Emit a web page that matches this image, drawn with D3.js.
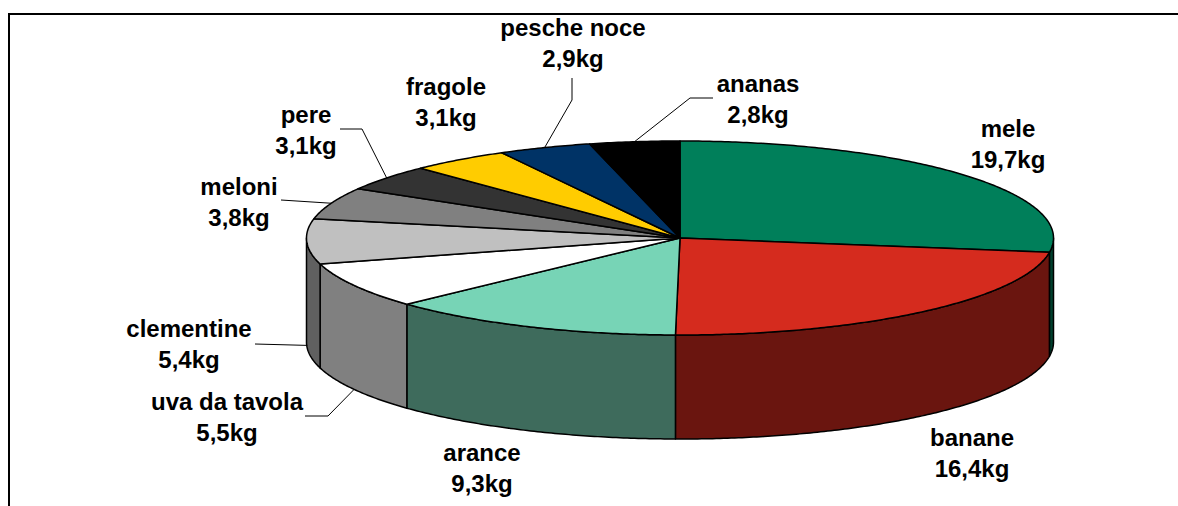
<!DOCTYPE html>
<html>
<head>
<meta charset="utf-8">
<script src="https://cdn.jsdelivr.net/npm/d3@7"></script>
<style>
  body { margin:0; background:#fff; }
  text { font-family:"Liberation Sans",Arial,sans-serif; font-weight:bold; font-size:24px; fill:#000; }
</style>
</head>
<body>
<div id="pie"></div>
<script>
let categories = ["mele","banane","arance","uva da tavola","clementine","meloni","pere","fragole","pesche noce","ananas"];
// read from the slice edges, they round to the printed labels
let values = [19.7,16.44,9.26,5.5,5.4,3.8,3.1,3.1,2.9,2.8];
let valueLabels = ["19,7kg","16,4kg","9,3kg","5,5kg","5,4kg","3,8kg","3,1kg","3,1kg","2,9kg","2,8kg"];

let topColors  = ["#007f5a","#d52b1e","#77d4b6","#ffffff","#c0c0c0","#808080","#333333","#ffcc00","#003366","#000000"];
let sideColors = ["#003f2d","#6a150f","#3e6b5c","#808080","#606060","#404040","#1a1a1a","#806600","#001a33","#000000"];

// label layout: centre x and first baseline of each label
let labelX = [1008,972,482,227,189,239,306,446,573,758];
let labelY = [137,446,461,410,337,195,123,95,36,92];
// elbow of the leader line, from the label to the slice (null = no leader)
let leaders = [null,null,null,[[305,416],[328,416]],[[255,344]],[[281,200]],[[340,129],[362,129]],null,[[572,78],[572,100]],[[713,98],[690,98]]];

let width = 1178,
    height = 506,
    cx = 680, cy = 238,
    rx = 373.5, ry = 97,
    depth = 104,
    lineGap = 30.5;

let xScale = d3.scaleLinear().domain([-1,1]).range([cx-rx,cx+rx]);
let yScale = d3.scaleLinear().domain([-1,1]).range([cy-ry,cy+ry]);

let svg = d3.select("#pie").append("svg").attr("width",width).attr("height",height).style("display","block");

// frame, only top and left are in the picture
svg.append("path")
  .attr("d",`M9,${height}V14H${width}`)
  .attr("fill","none").attr("stroke","#000").attr("stroke-width",2);

let pie = d3.pie().sort(null).startAngle(0).endAngle(2*Math.PI);
let slices = pie(values);

let rimPoint = (a,drop) => [xScale(Math.sin(a)), yScale(-Math.cos(a))+drop];

function sampleAngles(a0,a1){
  let n = Math.max(2,Math.ceil((a1-a0)/0.01));
  return d3.range(n+1).map(i => a0+(a1-a0)*i/n);
}

let line = d3.line();

// sides: only the front half of the rim shows
let sideG = svg.append("g");
slices.forEach((s,i) => {
  let a0 = Math.max(s.startAngle,Math.PI/2),
      a1 = Math.min(s.endAngle,3*Math.PI/2);
  if(a1 <= a0) return;
  let angles = sampleAngles(a0,a1);
  let pts = angles.map(a => rimPoint(a,0)).concat(angles.slice().reverse().map(a => rimPoint(a,depth)));
  sideG.append("path")
    .attr("d",line(pts)+"Z")
    .attr("fill",sideColors[i])
    .attr("stroke","#000").attr("stroke-width",1.5).attr("stroke-linejoin","round");
});

// top face
let topG = svg.append("g");
slices.forEach((s,i) => {
  let pts = [[cx,cy]].concat(sampleAngles(s.startAngle,s.endAngle).map(a => rimPoint(a,0)));
  topG.append("path")
    .attr("d",line(pts)+"Z")
    .attr("fill",topColors[i])
    .attr("stroke","#000").attr("stroke-width",1.5).attr("stroke-linejoin","round");
});

// leader lines end on the middle of the slice rim
let leaderG = svg.append("g");
slices.forEach((s,i) => {
  if(!leaders[i]) return;
  let mid = (s.startAngle+s.endAngle)/2;
  let onFront = Math.cos(mid) < 0;
  let pts = leaders[i].concat([rimPoint(mid,onFront ? depth : 0)]);
  leaderG.append("path")
    .attr("d",line(pts))
    .attr("fill","none").attr("stroke","#000").attr("stroke-width",1);
});

// labels
let labels = svg.append("g").selectAll("text").data(categories).enter().append("text")
  .attr("text-anchor","middle");
labels.append("tspan").attr("x",(d,i)=>labelX[i]).attr("y",(d,i)=>labelY[i]).text(d=>d);
labels.append("tspan").attr("x",(d,i)=>labelX[i]).attr("y",(d,i)=>labelY[i]+lineGap).text((d,i)=>valueLabels[i]);
</script>
</body>
</html>
